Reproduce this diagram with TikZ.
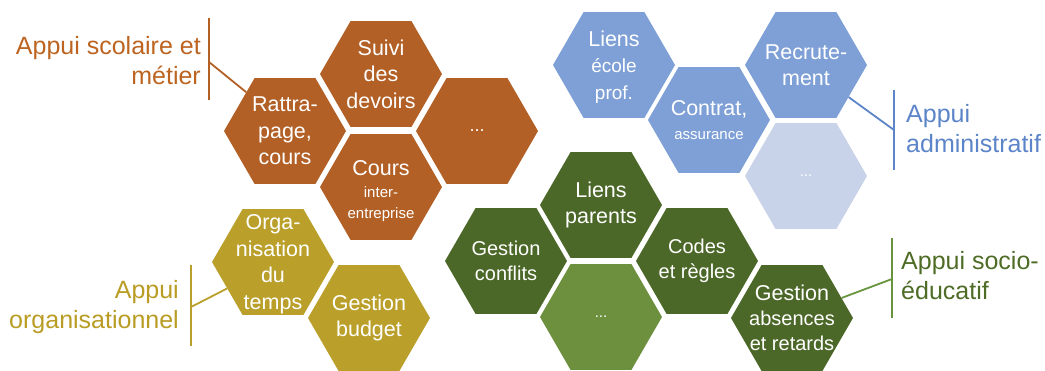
\documentclass[tikz,border=0pt]{standalone}
\usepackage{fontspec}
\setmainfont{Liberation Sans}
\usetikzlibrary{shapes.geometric}
\definecolor{orng}{RGB}{178,96,38}
\definecolor{orngtxt}{RGB}{188,100,32}
\definecolor{olv}{RGB}{186,160,42}
\definecolor{olvtxt}{RGB}{184,156,36}
\definecolor{dgrn}{RGB}{76,104,40}
\definecolor{lgrn}{RGB}{108,144,62}
\definecolor{grntxt}{RGB}{78,108,38}
\definecolor{grnbar}{RGB}{104,148,62}
\definecolor{blu}{RGB}{126,160,214}
\definecolor{lblu}{RGB}{200,211,233}
\definecolor{blutxt}{RGB}{92,132,200}
\newcommand\hexfnt{\fontsize{21.5}{26.5}\selectfont}
\newcommand\midfnt{\fontsize{20}{25}\selectfont}
\newcommand\smfnt{\fontsize{15}{18}\selectfont}
\begin{document}
\begin{tikzpicture}[x=1pt,y=-1pt,
  hexa/.style={regular polygon, regular polygon sides=6, minimum size=122pt, inner sep=0pt, draw=none},
  htxt/.style={text=white, align=center, inner sep=0pt, font=\hexfnt},
  lbl/.style={inner sep=0pt, font=\fontsize{25}{30}\selectfont},
  barline/.style={line width=1.8pt},
  conn/.style={line width=1.8pt}]
\useasboundingbox (0,0) rectangle (1045,371);

% orange group
\node[hexa, fill=orng] (rattr) at (285,131) {};
\node[hexa, fill=orng] (suivi) at (381,74) {};
\node[hexa, fill=orng] (odots) at (477,131) {};
\node[hexa, fill=orng] (cours) at (381,187) {};
\node[htxt] (trattr) at (rattr) {Rattra-\\page,\\cours};
\node[htxt] (tsuivi) at (suivi) {Suivi\\des\\devoirs};
\node[htxt, font=\fontsize{18}{20}\selectfont] (todots) at (odots) {...};
\node[htxt] (tcours) at ([yshift=-4pt]cours.center) {Cours\\[-4pt]{\smfnt inter-}\\[-6pt]{\smfnt entreprise}};

% olive group
\node[hexa, fill=olv] (orga) at (273,262) {};
\node[hexa, fill=olv] (budget) at (369,318) {};
\node[htxt] (torga) at ([yshift=-2pt]orga.center) {Orga-\\nisation\\du\\temps};
\node[htxt] (tbudget) at (budget) {Gestion\\budget};

% green group
\node[hexa, fill=dgrn] (confl) at (506,261) {};
\node[hexa, fill=dgrn] (parents) at (601,205) {};
\node[hexa, fill=lgrn] (gdots) at (601,317) {};
\node[hexa, fill=dgrn] (codes) at (697,261) {};
\node[hexa, fill=dgrn] (absen) at (792,318) {};
\node[htxt, font=\midfnt] (tconfl) at (confl) {Gestion\\conflits};
\node[htxt] (tparents) at (parents) {Liens\\parents};
\node[htxt, font=\smfnt] (tgdots) at (gdots) {...};
\node[htxt, font=\midfnt] (tcodes) at (codes) {Codes\\et règles};
\node[htxt, font=\midfnt] (tabsen) at (absen) {{\hexfnt Gestion}\\absences\\et retards};

% blue group
\node[hexa, fill=blu] (ecole) at (614,65) {};
\node[hexa, fill=blu] (contrat) at (709,120) {};
\node[hexa, fill=blu] (recru) at (806,65) {};
\node[hexa, fill=lblu] (bdots) at (806,176) {};
\node[htxt] (tecole) at ([yshift=-2pt]ecole.center) {Liens\\{\fontsize{19}{22}\selectfont école}\\{\fontsize{19}{22}\selectfont prof.}};
\node[htxt] (tcontrat) at (contrat) {Contrat,\\[-3pt]{\smfnt assurance}};
\node[htxt] (trecru) at (recru) {Recrute-\\ment};
\node[htxt, font=\smfnt] (tbdots) at (bdots) {...};

% labels
\node[lbl, text=orngtxt, align=right, anchor=east] (lscol) at (201,61) {Appui scolaire et\\métier};
\coordinate (b1t) at (209,18);
\coordinate (b1b) at (209,100);
\coordinate (b1m) at (209,62);
\draw[barline, orng] (b1t) -- (b1b);
\draw[conn, orng] (b1m) -- (rattr.135);

\node[lbl, text=olvtxt, align=right, anchor=east] (lorga) at (179,307) {Appui\\organisationnel};
\coordinate (b2t) at (191,265);
\coordinate (b2b) at (191,346);
\coordinate (b2m) at (191,307);
\draw[barline, olv] (b2t) -- (b2b);
\draw[conn, olv] (b2m) -- (orga.210);

\node[lbl, text=blutxt, align=left, anchor=west] (ladmin) at (906,129) {Appui\\administratif};
\coordinate (b3t) at (894,90);
\coordinate (b3b) at (894,170);
\coordinate (b3m) at (894,130);
\draw[barline, blutxt] (b3t) -- (b3b);
\draw[conn, blutxt] (recru.-37) -- (b3m);

\node[lbl, text=grntxt, align=left, anchor=west] (lsocio) at (901,276) {Appui socio-\\éducatif};
\coordinate (b4t) at (892,238);
\coordinate (b4b) at (892,318);
\coordinate (b4m) at (892,279);
\draw[barline, grnbar] (b4t) -- (b4b);
\draw[conn, grnbar] (absen.22) -- (b4m);
\end{tikzpicture}
\end{document}
